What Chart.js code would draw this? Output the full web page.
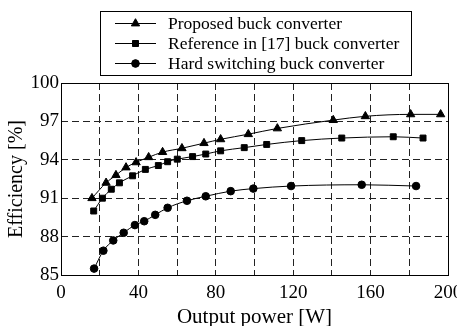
<!DOCTYPE html>
<html>
<head>
<meta charset="utf-8">
<script src="https://cdn.jsdelivr.net/npm/chart.js@4.4.0/dist/chart.umd.min.js"></script>
<style>
  html, body { margin: 0; padding: 0; background: #fff; }
  #wrap { width: 457px; height: 326px; }
</style>
</head>
<body>
<div id="wrap"><canvas id="effChart" width="457" height="326"></canvas></div>
<script>
// values
let seriesNames = ["Proposed buck converter", "Reference in [17] buck converter", "Hard switching buck converter"];
let proposedW = [16.0, 23.3, 28.4, 33.6, 38.8, 45.3, 52.5, 62.5, 73.9, 82.5, 96.8, 111.8, 140.7, 157.3, 180.7, 196.2];
let proposedEff = [91.0, 92.2, 92.8, 93.4, 93.8, 94.2, 94.6, 94.9, 95.3, 95.6, 96.0, 96.45, 97.1, 97.4, 97.55, 97.55];
let refW = [16.9, 21.4, 26.0, 30.2, 37.0, 43.6, 50.3, 55.1, 60.1, 68.0, 74.8, 82.5, 94.7, 106.3, 124.4, 145.1, 171.7, 187.1];
let refEff = [90.0, 91.0, 91.7, 92.2, 92.75, 93.25, 93.55, 93.85, 94.05, 94.25, 94.45, 94.7, 94.95, 95.2, 95.5, 95.7, 95.8, 95.7];
let hardW = [17.1, 21.9, 27.0, 32.4, 38.2, 43.0, 48.7, 55.1, 65.1, 74.8, 87.7, 99.4, 118.9, 155.4, 183.5];
let hardEff = [85.5, 86.9, 87.7, 88.3, 88.9, 89.2, 89.7, 90.25, 90.8, 91.15, 91.55, 91.75, 91.95, 92.05, 91.95];
let markers = ["triangle", "rect", "circle"];
let markerSizes = [4.8, 4.2, 3.8];

const serif = "'Liberation Serif', 'DejaVu Serif', serif";

function pts(xs, ys){
	let out=[];
	for(let i=0;i<xs.length;i++){ out.push({x: xs[i], y: ys[i]}); }
	return out;
}

let xsList=[proposedW, refW, hardW];
let ysList=[proposedEff, refEff, hardEff];
let datasets=[];
for(let i=0;i<3;i++){
	datasets.push({
		label: seriesNames[i],
		data: pts(xsList[i], ysList[i]),
		borderColor: "#000",
		backgroundColor: "#000",
		borderWidth: 1,
		pointStyle: markers[i],
		pointRadius: markerSizes[i],
		pointHoverRadius: markerSizes[i],
		tension: 0.4,
		cubicInterpolationMode: "monotone"
	});
}

// frame around the plot + boxed legend with line-and-marker samples
const framePlugin = {
	id: "frameAndLegend",
	afterDraw(chart){
		const ctx = chart.ctx;
		const a = chart.chartArea;
		ctx.save();
		ctx.strokeStyle = "#000";
		ctx.lineWidth = 1;
		ctx.setLineDash([]);
		ctx.strokeRect(Math.round(a.left)+0.5, Math.round(a.top)+0.5, Math.round(a.right-a.left), Math.round(a.bottom-a.top));

		// legend box
		const bx = 100.5, by = 11.5, bw = 311, bh = 64;
		ctx.fillStyle = "#fff";
		ctx.fillRect(bx, by, bw, bh);
		ctx.strokeRect(bx, by, bw, bh);
		ctx.font = "17.5px " + serif;
		ctx.textBaseline = "middle";
		ctx.textAlign = "left";
		for(let i=0;i<3;i++){
			const ly = 23 + i*20;
			ctx.beginPath();
			ctx.moveTo(115, ly+0.5);
			ctx.lineTo(156, ly+0.5);
			ctx.stroke();
			Chart.helpers.drawPoint(ctx, {pointStyle: markers[i], radius: markerSizes[i], borderWidth: 1}, 135.5, ly+0.5);
			ctx.fillStyle = "#000";
			ctx.fill();
			ctx.fillText(seriesNames[i], 168, ly+1);
		}
		ctx.restore();
	}
};

new Chart(document.getElementById("effChart"), {
	type: "line",
	data: { datasets: datasets },
	options: {
		responsive: false,
		animation: false,
		layout: { padding: { top: 83, right: 9, left: 0, bottom: -4 } },
		plugins: {
			legend: { display: false },
			tooltip: { enabled: false }
		},
		scales: {
			x: {
				type: "linear",
				min: 0, max: 200,
				ticks: {
					stepSize: 20,
					autoSkip: false,
					maxRotation: 0,
					padding: 7,
					color: "#000",
					font: { family: serif, size: 19 },
					callback: v => (v % 40 === 0 ? String(v) : "")
				},
				grid: { color: "#222", lineWidth: 1, drawTicks: false },
				border: { display: false, dash: [7, 4] },
				title: {
					display: true,
					text: "Output power [W]",
					color: "#000",
					font: { family: serif, size: 21 },
					padding: { top: 0, bottom: 0 }
				},
				afterFit: s => { s.height = 55; s.paddingLeft = 0; s.paddingRight = 0; }
			},
			y: {
				type: "linear",
				min: 85, max: 100,
				ticks: {
					stepSize: 3,
					padding: 2,
					color: "#000",
					font: { family: serif, size: 19 }
				},
				grid: { color: "#222", lineWidth: 1, drawTicks: false },
				border: { display: false, dash: [7, 4] },
				title: {
					display: true,
					text: "Efficiency [%]",
					color: "#000",
					font: { family: serif, size: 20 },
					padding: { top: 5, bottom: 0 }
				},
				afterFit: s => { s.width = 61; }
			}
		}
	},
	plugins: [framePlugin]
});
</script>
</body>
</html>
